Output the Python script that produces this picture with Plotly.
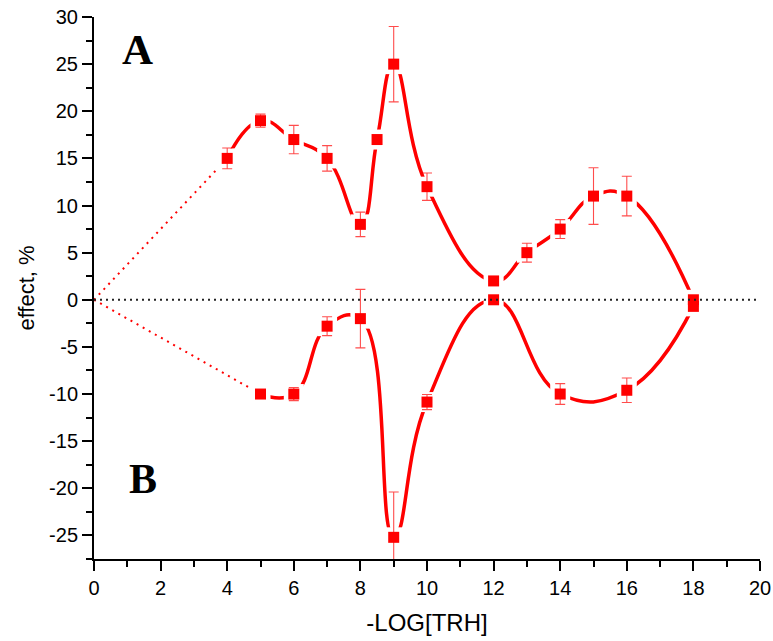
import plotly.graph_objects as go

# Concentration axis (-log[TRH]) and measured effects, series A (stimulation) and B (inhibition)
a_x = [4, 5, 6, 7, 8, 8.5, 9, 10, 12, 13, 14, 15, 16, 18]
a_y = [15, 19, 17, 15, 8, 17, 25, 12, 2, 5, 7.5, 11, 11, 0]
a_err = [1.1, 0.7, 1.5, 1.35, 1.3, 0, 4.0, 1.45, 0, 1.0, 1.0, 3.0, 2.1, 0]

b_x = [5, 6, 7, 8, 9, 10, 12, 14, 16, 18]
b_y = [-10, -10, -2.8, -2, -25.2, -10.85, 0, -10, -9.6, -0.7]
b_err = [0, 0.7, 1.0, 3.1, 4.8, 0.8, 0, 1.1, 1.3, 0]

origin = (0, 0)

x_ticks = list(range(0, 21, 2))
y_ticks = list(range(-25, 31, 5))

RED = "#ff0000"
ERR_RED = "rgba(255,0,0,0.7)"
SANS = "Liberation Sans, Arial, sans-serif"
SERIF = "Liberation Serif, Times New Roman, serif"

fig = go.Figure()

# dotted extrapolation from the origin to the first measured point of each series
for xs, ys in ((a_x, a_y), (b_x, b_y)):
    fig.add_trace(go.Scatter(
        x=[origin[0], xs[0]], y=[origin[1], ys[0]], mode="lines",
        line=dict(color=RED, width=2, dash="2px,5px"),
        hoverinfo="skip", showlegend=False))

# smooth connecting curves
for xs, ys in ((a_x, a_y), (b_x, b_y)):
    fig.add_trace(go.Scatter(
        x=xs, y=ys, mode="lines",
        line=dict(color=RED, width=3.5, shape="spline", smoothing=1.3),
        hoverinfo="skip", showlegend=False))

# white halo so the curves stop short of each symbol
for xs, ys in ((a_x, a_y), (b_x, b_y)):
    fig.add_trace(go.Scatter(
        x=xs, y=ys, mode="markers",
        marker=dict(symbol="square", size=20, color="white"),
        hoverinfo="skip", showlegend=False))

# error bars
for xs, ys, es in ((a_x, a_y, a_err), (b_x, b_y, b_err)):
    fig.add_trace(go.Scatter(
        x=xs, y=ys, mode="markers",
        marker=dict(size=1, color="rgba(0,0,0,0)"),
        error_y=dict(type="data", array=es, visible=True,
                     color=ERR_RED, thickness=1.1, width=5),
        hoverinfo="skip", showlegend=False))

# data symbols
for xs, ys in ((a_x, a_y), (b_x, b_y)):
    fig.add_trace(go.Scatter(
        x=xs, y=ys, mode="markers",
        marker=dict(symbol="square", size=11, color=RED, line=dict(width=0)),
        showlegend=False))

# zero reference line
fig.add_hline(y=0, line=dict(color="#222222", width=2, dash="2px,4px"), layer="above")

# panel letters
fig.add_annotation(x=1.32, y=26.6, text="<b>A</b>", showarrow=False,
                   font=dict(family=SERIF, size=43, color="black"))
fig.add_annotation(x=1.47, y=-19.0, text="<b>B</b>", showarrow=False,
                   font=dict(family=SERIF, size=42, color="black"))

axis_common = dict(
    showline=True, linecolor="black", linewidth=2,
    showgrid=False, zeroline=False, mirror=False, automargin=False,
    ticks="outside", ticklen=10, tickwidth=2, tickcolor="black",
    tickfont=dict(family=SANS, size=20, color="black"),
)

fig.update_xaxes(
    range=[0, 20], tickvals=x_ticks, ticktext=[str(v) for v in x_ticks],
    minor=dict(ticks="outside", ticklen=6, tickwidth=2, tickcolor="black", dtick=1),
    title=dict(text="-LOG[TRH]", font=dict(family=SANS, size=24, color="black"), standoff=16),
    **axis_common)
fig.update_yaxes(
    range=[-27.5, 30], tickvals=y_ticks, ticktext=[str(v) for v in y_ticks],
    minor=dict(ticks="outside", ticklen=6, tickwidth=2, tickcolor="black", dtick=2.5, tick0=0),
    title=dict(text="effect, %", font=dict(family=SANS, size=22, color="black"), standoff=8),
    **axis_common)

fig.update_layout(
    width=773, height=641,
    margin=dict(l=94, r=13, t=17, b=82),
    plot_bgcolor="white", paper_bgcolor="white",
    showlegend=False,
)

fig.write_html("out.html")
